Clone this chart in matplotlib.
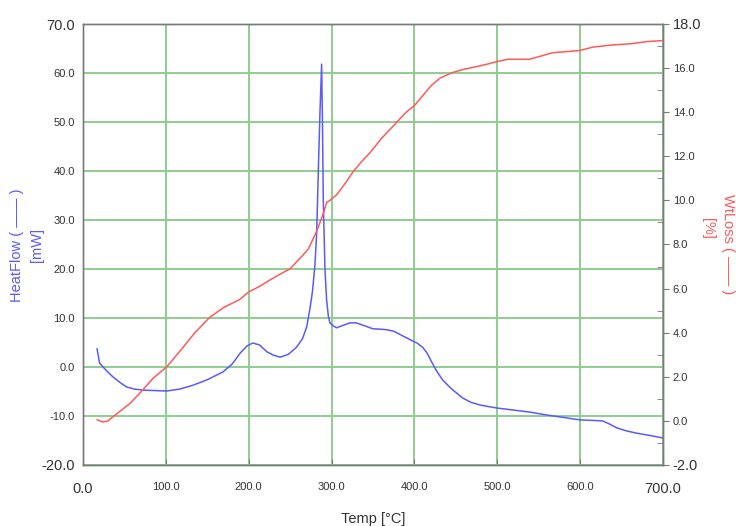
import matplotlib
matplotlib.use("Agg")
import matplotlib.pyplot as plt
from matplotlib.ticker import MultipleLocator

plt.rcParams['font.family'] = ['Liberation Sans', 'DejaVu Sans']

# ---- data ----
temp_hf = [17, 20, 28, 36, 45, 53, 62, 72, 85, 101, 117, 133, 150, 169, 180, 190, 198,
           205, 213, 222, 230, 238, 248, 258, 265, 270, 274, 277, 280, 282, 284, 286,
           288, 289, 290, 292, 294, 296, 298, 302, 306, 314, 322, 330, 340, 350, 360,
           367, 375, 383, 391, 398, 403, 410, 415, 420, 426, 434, 445, 458, 468, 479,
           490, 501, 520, 539, 560, 580, 600, 615, 627, 635, 644, 655, 668, 685, 700]
heatflow = [3.7, 0.8, -0.7, -2.0, -3.2, -4.1, -4.5, -4.7, -4.8, -4.9, -4.5, -3.7, -2.6,
            -1.0, 0.6, 2.9, 4.3, 4.9, 4.5, 3.1, 2.4, 2.0, 2.6, 4.1, 5.8, 8.2, 12.0, 15.5,
            21.0, 27.3, 40.0, 52.0, 61.8, 50.0, 34.0, 20.0, 13.7, 10.5, 9.0, 8.4, 8.0,
            8.5, 9.0, 9.0, 8.4, 7.8, 7.7, 7.6, 7.3, 6.6, 5.9, 5.3, 4.9, 4.0, 2.9, 1.3,
            -0.6, -2.65, -4.5, -6.3, -7.2, -7.75, -8.1, -8.4, -8.8, -9.2, -9.8, -10.3,
            -10.8, -10.9, -11.0, -11.6, -12.4, -13.0, -13.5, -14.0, -14.5]

temp_wl = [17, 24, 30, 36, 45, 57, 72, 85, 101, 120, 135, 153, 170, 189, 200, 213, 226,
           240, 250, 265, 272, 277, 282, 286, 290, 294, 298, 306, 316, 326, 336, 346,
           360, 375, 390, 400, 410, 420, 431, 440, 446, 460, 479, 490, 500, 513, 527,
           539, 553, 567, 585, 600, 615, 627, 639, 660, 680, 700]
wtloss = [0.05, -0.05, 0.0, 0.18, 0.45, 0.8, 1.4, 1.95, 2.45, 3.3, 4.0, 4.7, 5.15, 5.5,
          5.85, 6.1, 6.4, 6.7, 6.9, 7.5, 7.8, 8.2, 8.6, 9.0, 9.4, 9.9, 10.0, 10.25,
          10.75, 11.3, 11.75, 12.15, 12.8, 13.4, 14.0, 14.3, 14.75, 15.2, 15.55, 15.7,
          15.8, 15.95, 16.1, 16.2, 16.3, 16.4, 16.4, 16.4, 16.55, 16.7, 16.75, 16.8,
          16.95, 17.0, 17.05, 17.1, 17.2, 17.25]

x_ticks = [0, 100, 200, 300, 400, 500, 600, 700]
hf_ticks = [-20, -10, 0, 10, 20, 30, 40, 50, 60, 70]
wl_ticks = [-2, 0, 2, 4, 6, 8, 10, 12, 14, 16, 18]

# ---- styling ----
blue = '#5a5aff'
red = '#ff5a5a'
grid_c = '#8fcc8f'
spine_c = '#7a7a7a'
tick_c = '#333333'

fig = plt.figure(figsize=(7.36, 5.26), dpi=100)
ax = fig.add_axes([83/736, 1-465/526, (663-83)/736, (465-24)/526])
ax2 = ax.twinx()

ax.plot(temp_hf, heatflow, color=blue, lw=1.1, zorder=3)
ax2.plot(temp_wl, wtloss, color=red, lw=1.1, zorder=3)

ax.set_xlim(0, 700)
ax.set_ylim(-20, 70)
ax2.set_ylim(-2, 18)

ax.set_xticks(x_ticks, [f"{v:.1f}" for v in x_ticks])
ax.set_yticks(hf_ticks, [f"{v:.1f}" for v in hf_ticks])
ax2.set_yticks(wl_ticks, [f"{v:.1f}" for v in wl_ticks])
ax2.yaxis.set_minor_locator(MultipleLocator(1))

ax.grid(True, color=grid_c, lw=1.4)
ax.set_axisbelow(True)

for a in (ax, ax2):
    for s in a.spines.values():
        s.set_color(spine_c)
        s.set_linewidth(1.0)

ax.tick_params(axis='y', length=0, pad=6, labelsize=8, labelcolor=tick_c)
ax.tick_params(axis='x', length=4, direction='in', color=spine_c, pad=12,
               labelsize=8, labelcolor=tick_c)
ax2.tick_params(axis='y', which='major', length=4, direction='out', color=spine_c,
                pad=3, labelsize=8, labelcolor=tick_c)
ax2.tick_params(axis='y', which='minor', length=4, direction='in', color=spine_c)

for labels in (ax.get_xticklabels(), ax.get_yticklabels(), ax2.get_yticklabels()):
    labels[0].set_fontsize(10.5)
    labels[-1].set_fontsize(10.5)

ax.set_xlabel("Temp [°C]", fontsize=10.5, color=tick_c, labelpad=12)

fig.text(17/736, 1-245/526, "HeatFlow ( —— )", rotation=90, color=blue,
         fontsize=10.5, ha='center', va='center')
fig.text(37/736, 1-245/526, "[mW]", rotation=90, color=blue,
         fontsize=10.5, ha='center', va='center')
fig.text(728/736, 1-244/526, "WtLoss ( —— )", rotation=-90, color=red,
         fontsize=10.5, ha='center', va='center')
fig.text(708/736, 1-228/526, "[%]", rotation=-90, color=red,
         fontsize=10.5, ha='center', va='center')

fig.savefig("out.png", dpi=100)
